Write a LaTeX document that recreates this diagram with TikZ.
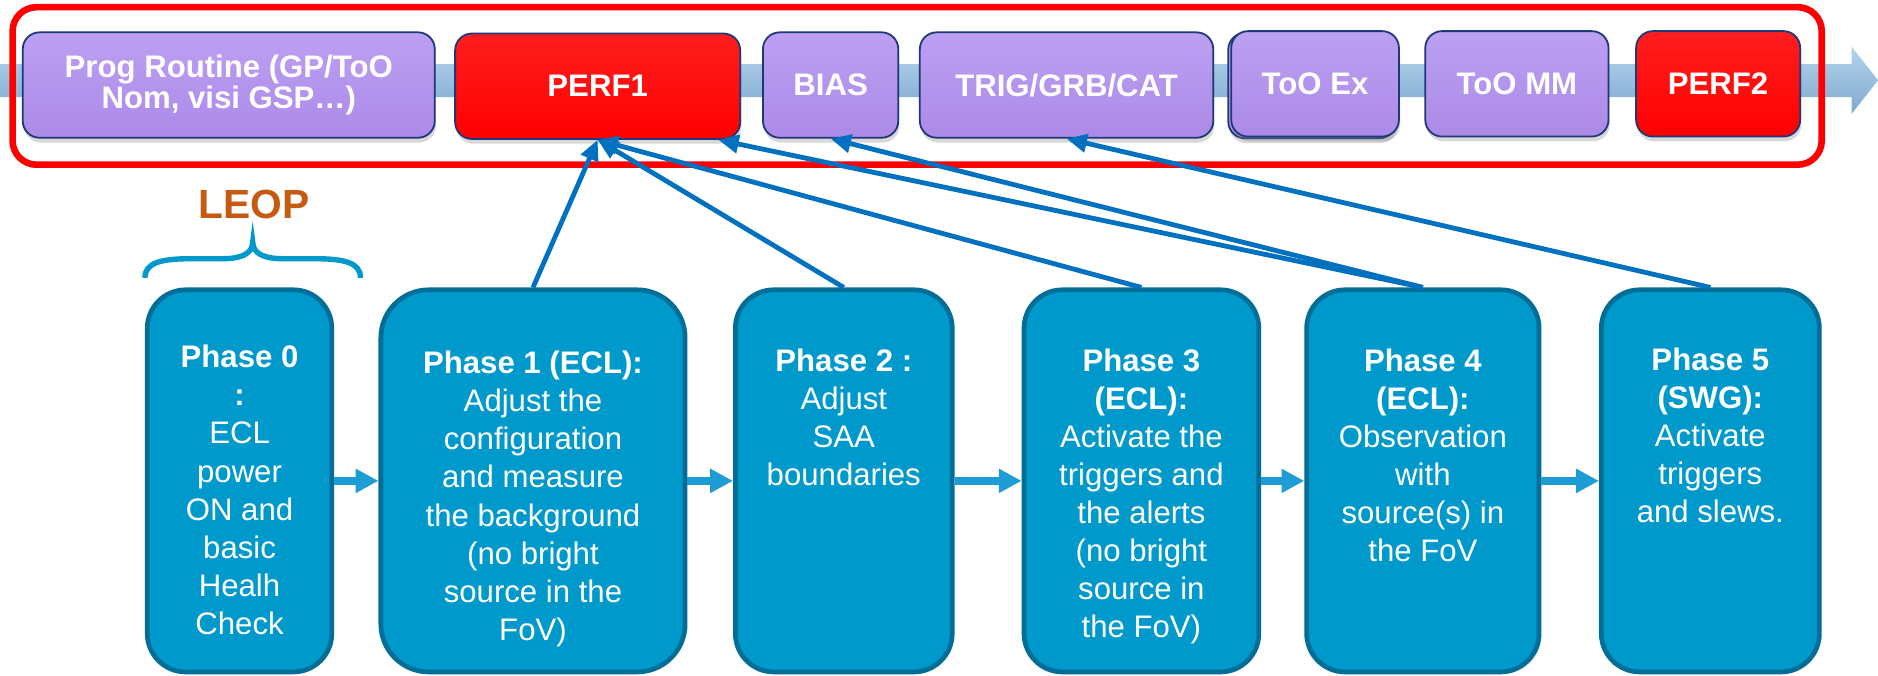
\documentclass[tikz,border=0pt]{standalone}
\usepackage{fontspec}
\setmainfont{Liberation Sans}
\usetikzlibrary{arrows.meta,shadows,calc}
\definecolor{bandtop}{RGB}{180,212,238}
\definecolor{bandbot}{RGB}{128,168,206}
\definecolor{purp}{RGB}{172,138,232}
\definecolor{purptop}{RGB}{188,160,242}
\definecolor{navy}{RGB}{31,56,120}
\definecolor{redtop}{RGB}{255,30,30}
\definecolor{phfill}{RGB}{0,153,204}
\definecolor{phdraw}{RGB}{0,110,150}
\definecolor{connblue}{RGB}{0,112,192}
\definecolor{pharrow}{RGB}{30,156,212}
\definecolor{leopc}{RGB}{197,90,17}
\begin{document}
\begin{tikzpicture}[x=1pt,y=-1pt,
  topbox/.style={draw=navy, line width=1.5pt, rounded corners=14pt,
    top color=purptop, bottom color=purp, minimum height=88pt,
    text=white, font=\fontsize{26}{26.5}\selectfont\bfseries, align=center,
    inner sep=0pt, drop shadow={shadow xshift=1pt, shadow yshift=-4pt, opacity=0.3}},
  redbox/.style={topbox, top color=redtop, bottom color=red},
  phase/.style={draw=phdraw, line width=4pt, fill=phfill, rounded corners=32pt,
    minimum height=319pt, inner sep=0pt},
  ptext/.style={text=white, font=\fontsize{26}{31.8}\selectfont, align=center,
    inner sep=0pt, anchor=north},
  link/.style={draw=connblue, line width=4pt, -{Triangle[length=17pt,width=15pt]}},
  flow/.style={draw=pharrow, line width=6.4pt, -{Triangle[length=19pt,width=19pt]}}
]
\useasboundingbox (0,0) rectangle (1568,564);
\fill[white] (0,0) rectangle (1568,564);

% background timeline arrow
\shade[top color=bandtop, bottom color=bandbot]
  (0,53.5) -- (1546,53.5) -- (1546,39) -- (1568,67) -- (1546,95) -- (1546,81) -- (0,81) -- cycle;

% red frame
\draw[red, line width=5.5pt, rounded corners=20pt] (10.5,6) rectangle (1521,137.5);

% top boxes
\node[topbox, minimum width=344pt] (prog) at (191,71) {Prog Routine (GP/ToO\\Nom, visi GSP…)};
\node[redbox, minimum width=238pt] (perf1) at (499,72) {PERF1};
\node[topbox, minimum width=113pt] (bias) at (693.5,71) {BIAS};
\node[topbox, minimum width=245pt] (trig) at (890.5,71) {TRIG/GRB/CAT};
\node[topbox, minimum width=140pt] (tooexb) at (1095.5,71.5) {};
\node[topbox, minimum width=140pt] (tooex) at (1098,70) {ToO Ex};
\node[topbox, minimum width=153pt] (toomm) at (1266.5,70) {ToO MM};
\node[redbox, minimum width=137pt] (perf2) at (1434.5,70) {PERF2};

% LEOP label and brace
\node[text=leopc, font=\fontsize{34}{40}\selectfont\bfseries, inner sep=0pt] (leop) at (212,171) {LEOP};
\draw[phfill, line width=4.5pt]
  (121,232) .. controls (121,219) and (135,216) .. (160,216) -- (186,216)
  .. controls (201,216) and (211,212) .. (211,202)
  .. controls (211,212) and (221,216) .. (236,216) -- (262,216)
  .. controls (287,216) and (301,219) .. (301,232);

% phase boxes
\node[phase, minimum width=154pt] (p0) at (200,401.5) {};
\node[phase, minimum width=254pt, rounded corners=40pt] (p1) at (445,401.5) {};
\node[phase, minimum width=181pt] (p2) at (704.5,401.5) {};
\node[phase, minimum width=196pt] (p3) at (953,401.5) {};
\node[phase, minimum width=194pt] (p4) at (1188,401.5) {};
\node[phase, minimum width=182pt] (p5) at (1428,401.5) {};

\node[ptext] (t0) at ([yshift=-48pt]p0.north) {\textbf{Phase 0}\\\textbf{:}\\ECL\\power\\ON and\\basic\\Healh\\Check};
\node[ptext] (t1) at ([yshift=-53pt]p1.north) {\textbf{Phase 1 (ECL):}\\Adjust the\\configuration\\and measure\\the background\\(no bright\\source in the\\FoV)};
\node[ptext] (t2) at ([yshift=-51pt]p2.north) {\textbf{Phase 2 :}\\Adjust\\SAA\\boundaries};
\node[ptext] (t3) at ([yshift=-51pt]p3.north) {\textbf{Phase 3}\\\textbf{(ECL):}\\Activate the\\triggers and\\the alerts\\(no bright\\source in\\the FoV)};
\node[ptext] (t4) at ([yshift=-51pt]p4.north) {\textbf{Phase 4}\\\textbf{(ECL):}\\Observation\\with\\source(s) in\\the FoV};
\node[ptext] (t5) at ([yshift=-50pt]p5.north) {\textbf{Phase 5}\\\textbf{(SWG):}\\Activate\\triggers\\and slews.};

% flow arrows
\draw[flow] (p0.east) -- (p1.west);
\draw[flow] (p1.east) -- (p2.west);
\draw[flow] (p2.east) -- (p3.west);
\draw[flow] (p3.east) -- (p4.west);
\draw[flow] (p4.east) -- (p5.west);

% connectors to top boxes
\draw[link] (p1.north) -- (perf1.south);
\draw[link] (p2.north) -- (perf1.south);
\draw[link] (p3.north) -- (perf1.south);
\draw[link] (p4.north) -- ([xshift=-19pt]perf1.south east);
\draw[link] (p4.north) -- (bias.south);
\draw[link] (p5.north) -- (trig.south);
\end{tikzpicture}
\end{document}
